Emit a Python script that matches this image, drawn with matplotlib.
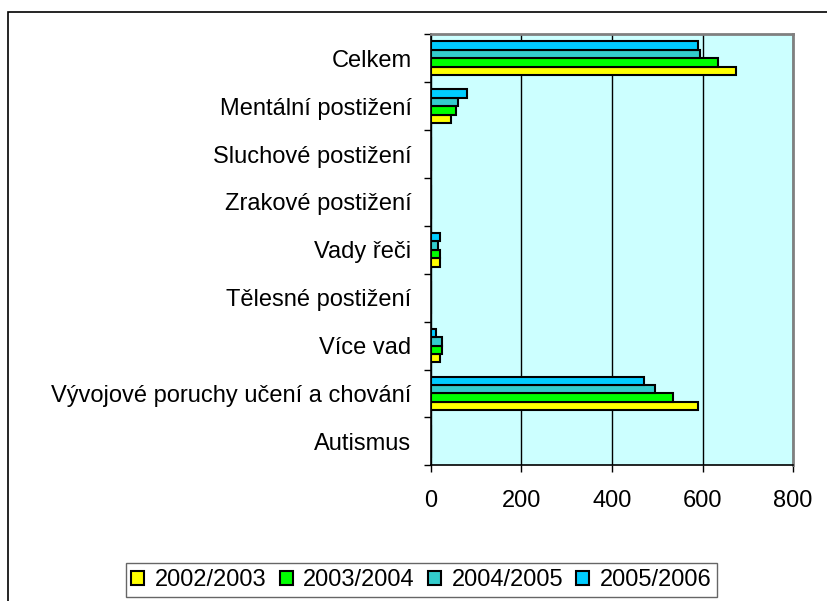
import matplotlib
matplotlib.use("Agg")
import matplotlib.pyplot as plt
import numpy as np
from matplotlib.patches import Rectangle

categories = ["Celkem", "Mentální postižení", "Sluchové postižení", "Zrakové postižení",
              "Vady řeči", "Tělesné postižení", "Více vad",
              "Vývojové poruchy učení a chování", "Autismus"]
series_names = ["2002/2003", "2003/2004", "2004/2005", "2005/2006"]
v2002 = [675, 45, 0, 0, 20, 0, 20, 590, 0]
v2003 = [635, 55, 0, 0, 20, 0, 25, 535, 0]
v2004 = [595, 60, 0, 0, 15, 0, 25, 495, 0]
v2005 = [590, 80, 0, 0, 20, 0, 10, 470, 0]
colors = ["#FFFF00", "#00FF00", "#33CCCC", "#00CCFF"]
xticks = [0, 200, 400, 600, 800]

plt.rcParams['font.family'] = ['Liberation Sans', 'DejaVu Sans']
FS = 17

fig = plt.figure(figsize=(8.28, 6.01), dpi=100)
fig.patches.append(Rectangle((8/828, 0 - 0.05), 1.1, 1 - 12/601 + 0.05,
                             transform=fig.transFigure, fill=False,
                             edgecolor="black", linewidth=1.2, zorder=0))
ax = fig.add_axes([431/828, 1 - 465.3/601, (793 - 431)/828, (465.3 - 34.3)/601])
ax.set_facecolor("#CCFFFF")

n = len(categories)
y = np.arange(n)
h = 0.175
for k, (vals, c, name) in enumerate(zip([v2002, v2003, v2004, v2005], colors, series_names)):
    offs = (1.5 - k) * h
    ax.barh(y + offs, vals, height=h, color=c, edgecolor="black", linewidth=1.5,
            label=name, zorder=3)

ax.set_xlim(0, 800)
ax.set_ylim(n - 0.5, -0.5)
ax.set_xticks(xticks)
ax.set_xticklabels([str(t) for t in xticks], fontsize=FS)
ax.tick_params(axis='x', direction='out', length=5, width=1, pad=13, color="black")
ax.xaxis.grid(True, color="black", linewidth=1, zorder=1)
ax.set_axisbelow(True)

ax.set_yticks(np.arange(-0.5, n, 1.0))
ax.set_yticklabels([])
ax.tick_params(axis='y', which='major', direction='out', length=5, width=1)
ax.set_yticks(y, minor=True)
ax.set_yticklabels(categories, minor=True, fontsize=FS)
ax.tick_params(axis='y', which='minor', length=0, pad=14)

ax.spines['left'].set_color("black")
ax.spines['bottom'].set_color("black")
ax.spines['top'].set_color("#808080")
ax.spines['right'].set_color("#808080")
ax.spines['top'].set_linewidth(2)
ax.spines['right'].set_linewidth(2)
ax.spines['left'].set_linewidth(1.2)
ax.spines['bottom'].set_linewidth(1.2)

leg = fig.legend(loc='center', bbox_to_anchor=(421.5/828, 1 - 580/601),
                 bbox_transform=fig.transFigure, ncol=4, fontsize=FS,
                 frameon=True, fancybox=False, edgecolor="#404040",
                 handlelength=0.55, handleheight=0.55, handletextpad=0.45,
                 columnspacing=0.55, borderpad=0.25, borderaxespad=0)
leg.get_frame().set_linewidth(1)
for p in leg.get_patches():
    p.set_linewidth(1.5)

fig.savefig("out.png", dpi=100)
